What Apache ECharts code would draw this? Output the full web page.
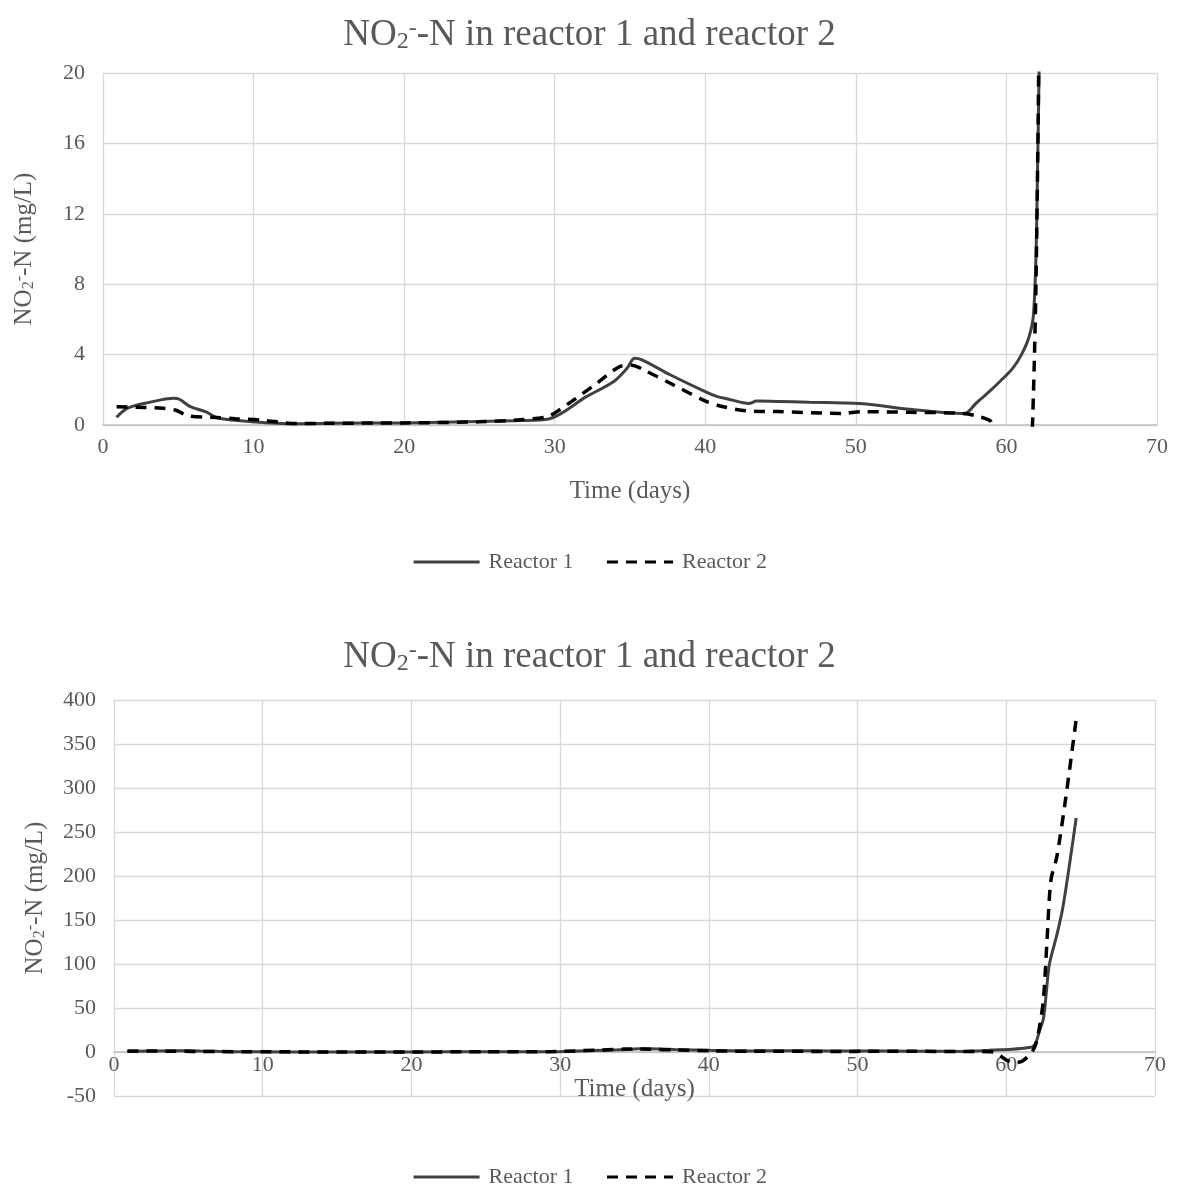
<!DOCTYPE html>
<html>
<head>
<meta charset="utf-8">
<script src="https://cdn.jsdelivr.net/npm/echarts@6/dist/echarts.min.js"></script>
<style>
  html, body { margin: 0; padding: 0; background: #ffffff; }
  #chart { width: 1179px; height: 1200px; }
</style>
</head>
<body>
<div id="chart"></div>
<script>
// ---- data ----
const days1 = [0.9, 1.6, 3.0, 4.7, 5.1, 5.8, 6.8, 7.7, 9.9, 12.7, 15, 20, 25, 27.7, 29.6, 32.1, 33.9, 34.8, 35.3, 35.8, 37.7, 40.1, 40.8, 41.5, 42.9, 43.4, 44.8, 46.9, 49.2, 50.7, 53.6, 57.2, 58.0, 58.8, 59.6, 60.4, 61.0, 61.5, 61.8, 62.0, 62.25, 62.5, 62.7, 62.9, 63.4, 63.8, 64.25, 64.7];
const reactor1 = [0.44, 0.95, 1.27, 1.52, 1.45, 1.04, 0.76, 0.38, 0.19, 0.07, 0.1, 0.12, 0.2, 0.25, 0.34, 1.61, 2.46, 3.22, 3.79, 3.7, 2.84, 1.85, 1.61, 1.48, 1.22, 1.36, 1.34, 1.29, 1.25, 1.19, 0.89, 0.65, 1.25, 1.85, 2.5, 3.2, 4.0, 5.0, 6.3, 11, 25, 38, 69, 100, 133, 164, 213, 266];

const days2 = [0.9, 2.8, 4.0, 4.8, 5.7, 7.2, 8.8, 10.5, 12.9, 15, 20, 25, 27.7, 29.5, 30.3, 32.8, 34.3, 35.1, 36.0, 37.9, 40.1, 41.2, 42.7, 44.8, 49.2, 50.3, 53.6, 57.1, 58.2, 59.0, 59.5, 60.0, 60.5, 61.0, 61.4, 61.75, 62.0, 62.25, 62.5, 62.75, 63.0, 63.4, 64.0, 64.7];
const reactor2 = [1.04, 1.0, 0.95, 0.85, 0.51, 0.44, 0.36, 0.28, 0.08, 0.1, 0.12, 0.18, 0.3, 0.47, 0.85, 2.37, 3.31, 3.4, 3.09, 2.27, 1.33, 1.04, 0.81, 0.76, 0.66, 0.76, 0.72, 0.66, 0.47, 0.15, -3, -9, -12, -11, -6, 0.5, 10, 30, 60, 130, 195, 222, 289, 378];

const seriesNames = ['Reactor 1', 'Reactor 2'];
const chartTitle = '{a|NO}{b|2}{c|-}{a|-N in reactor 1 and reactor 2}';
const yAxisTitle = '{a|NO}{b|2}{c|-}{a|-N (mg/L)}';
const xAxisTitle = 'Time (days)';
const topY = { min: 0, max: 20, interval: 4 };
const bottomY = { min: -50, max: 400, interval: 50 };
const xRange = { min: 0, max: 70, interval: 10 };

// ---- build ----
const FONT = "'Liberation Serif', 'Times New Roman', serif";
const TXT = '#595959';
const pairs = (xs, ys) => xs.map((x, i) => [x, ys[i]]);
const data1 = pairs(days1, reactor1);
const data2 = pairs(days2, reactor2);

function titleRich(big, small, subH) {
  return {
    a: { fontFamily: FONT, fontSize: big, fontWeight: 'normal', color: TXT, lineHeight: big },
    b: { fontFamily: FONT, fontSize: small, fontWeight: 'normal', color: TXT, lineHeight: subH, verticalAlign: 'bottom' },
    c: { fontFamily: FONT, fontSize: small, fontWeight: 'normal', color: TXT, lineHeight: Math.round(small * 0.55), verticalAlign: 'top' }
  };
}

function makeX(gridIndex, nameGap, offset, margin) {
  return {
    type: 'value', gridIndex: gridIndex,
    min: xRange.min, max: xRange.max, interval: xRange.interval,
    name: xAxisTitle, nameLocation: 'middle', nameGap: nameGap,
    nameTextStyle: { fontFamily: FONT, fontSize: 25, color: TXT },
    offset: offset,
    axisLine: { show: true, onZero: false, lineStyle: { color: '#bfbfbf', width: 1.5 } },
    axisTick: { show: false },
    axisLabel: { fontFamily: FONT, fontSize: 22, color: TXT, margin: margin },
    splitLine: { show: true, lineStyle: { color: '#d9d9d9', width: 1.3 } }
  };
}
function makeY(gridIndex, rng) {
  return {
    type: 'value', gridIndex: gridIndex,
    min: rng.min, max: rng.max, interval: rng.interval,
    name: yAxisTitle, nameLocation: 'middle', nameGap: 66,
    nameTextStyle: { rich: titleRich(25, 16, 5) },
    axisLine: { show: false },
    axisTick: { show: false },
    axisLabel: { fontFamily: FONT, fontSize: 22, color: TXT, margin: 18 },
    splitLine: { show: true, lineStyle: { color: '#d9d9d9', width: 1.3 } }
  };
}
function makeSeries(idx) {
  return [
    {
      name: seriesNames[0], type: 'line', xAxisIndex: idx, yAxisIndex: idx,
      data: data1, symbol: 'none', showSymbol: false, smooth: 0.3, clip: true,
      lineStyle: { color: '#404040', width: 3, type: 'solid' },
      itemStyle: { color: '#404040' }
    },
    {
      name: seriesNames[1], type: 'line', xAxisIndex: idx, yAxisIndex: idx,
      data: data2, symbol: 'none', showSymbol: false, smooth: 0.3, clip: true,
      lineStyle: { color: '#000000', width: 3.5, type: [11, 8] },
      itemStyle: { color: '#000000' }
    }
  ];
}
function makeLegend(top) {
  return {
    top: top, left: 'center', data: seriesNames,
    itemWidth: 66, itemHeight: 14, itemGap: 32,
    itemStyle: { opacity: 0 },
    lineStyle: { width: 3 },
    textStyle: { fontFamily: FONT, fontSize: 22, color: TXT, padding: [0, 0, 0, 4] }
  };
}

const chart = echarts.init(document.getElementById('chart'), null, { renderer: 'canvas' });
chart.setOption({
  animation: false,
  backgroundColor: '#ffffff',
  title: [
    { text: chartTitle, left: 'center', top: 12, textStyle: { rich: titleRich(37, 24, 6) } },
    { text: chartTitle, left: 'center', top: 634, textStyle: { rich: titleRich(37, 24, 6) } }
  ],
  legend: [makeLegend(546), makeLegend(1161)],
  grid: [
    { left: 103, top: 73, width: 1054, height: 352 },
    { left: 114, top: 700, width: 1041, height: 396 }
  ],
  xAxis: [makeX(0, 54, 0, 11), makeX(1, 26, -44.7, 3)],
  yAxis: [makeY(0, topY), makeY(1, bottomY)],
  series: makeSeries(0).concat(makeSeries(1))
});
</script>
</body>
</html>
